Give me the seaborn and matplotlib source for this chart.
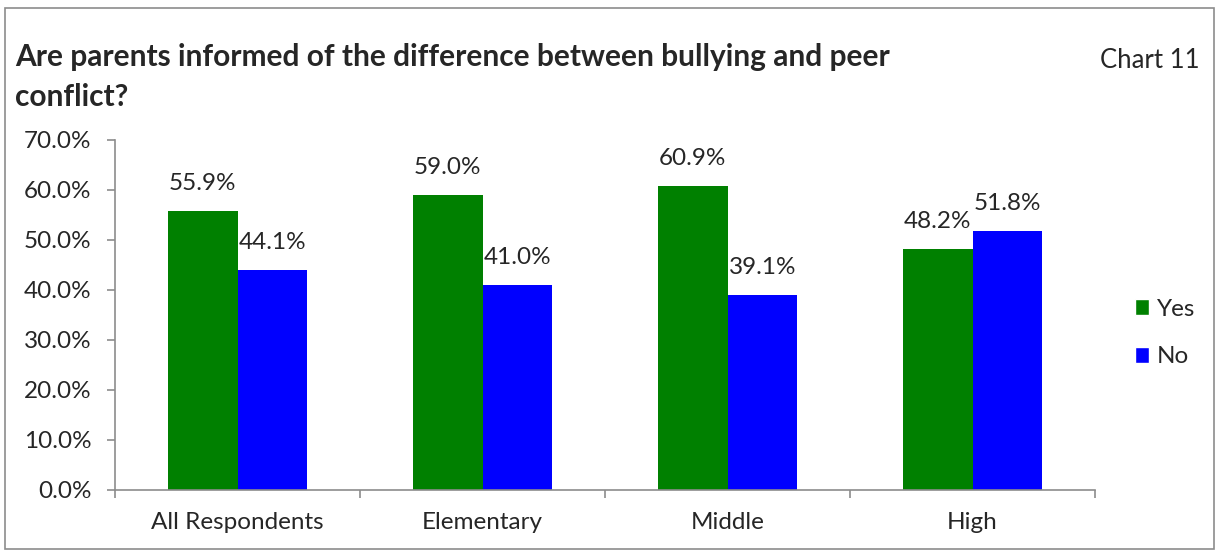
import pandas as pd
import matplotlib.pyplot as plt
import seaborn as sns
from matplotlib.patches import Rectangle, Patch
from matplotlib.ticker import MultipleLocator, FuncFormatter

# 数据
groups = ['All Respondents', 'Elementary', 'Middle', 'High']
yes_vals = [55.9, 59.0, 60.9, 48.2]
no_vals = [44.1, 41.0, 39.1, 51.8]

df = pd.DataFrame({
    'group': groups * 2,
    'answer': ['Yes'] * 4 + ['No'] * 4,
    'value': yes_vals + no_vals,
})

sns.set_style('white')
plt.rcParams['font.family'] = ['Lato', 'DejaVu Sans']

fig = plt.figure(figsize=(12.18, 5.5), dpi=100)
ax = fig.add_axes([115 / 1218, 1 - 490 / 550, 980 / 1218, 350 / 550])

colors = {'Yes': '#008000', 'No': '#0000FF'}
sns.barplot(data=df, x='group', y='value', hue='answer', palette=colors,
            width=0.571, gap=0, saturation=1, legend=False, linewidth=0,
            ax=ax)

# 数据标签
for p in ax.patches:
    h = p.get_height()
    if h == 0:
        continue
    ax.annotate(f'{h:.1f}%', (p.get_x() + p.get_width() / 2, h),
                xytext=(0, 12), textcoords='offset points',
                ha='center', va='bottom', fontsize=17.5)

ax.set_ylim(0, 70)
ax.set_xlim(-0.5, 3.5)
ax.yaxis.set_major_locator(MultipleLocator(10))
ax.yaxis.set_major_formatter(FuncFormatter(lambda v, _: f'{v:.1f}%'))
ax.set_xticks([0, 1, 2, 3])
ax.set_xticklabels(groups)
ax.set_xticks([-0.5, 0.5, 1.5, 2.5, 3.5], minor=True)
ax.set_xlabel('')
ax.set_ylabel('')

for s in ['top', 'right']:
    ax.spines[s].set_visible(False)
for s in ['left', 'bottom']:
    ax.spines[s].set_color('#8c8c8c')
    ax.spines[s].set_linewidth(1.2)

ax.tick_params(axis='y', which='major', direction='out', length=6, width=1.2,
               color='#8c8c8c', labelsize=17.5, pad=11, left=True)
ax.tick_params(axis='x', which='major', length=0, labelsize=17.5, pad=16)
ax.tick_params(axis='x', which='minor', direction='out', length=6, width=1.2,
               color='#8c8c8c', bottom=True)

# 标题
fig.text(15 / 1218, 1 - 57 / 550,
         'Are parents informed of the difference between bullying and peer',
         fontsize=21.5, fontweight='bold', va='center', ha='left')
fig.text(15 / 1218, 1 - 97 / 550, 'conflict?',
         fontsize=21.5, fontweight='bold', va='center', ha='left')
fig.text(1150 / 1218, 1 - 60 / 550, 'Chart 11', fontsize=18.5,
         va='center', ha='center')

# 图例
handles = [Patch(facecolor=colors['Yes'], label='Yes'),
           Patch(facecolor=colors['No'], label='No')]
fig.legend(handles=handles, loc='center left',
           bbox_to_anchor=(1113 / 1218, 1 - 333 / 550), frameon=False,
           fontsize=17.5, handlelength=0.6, handleheight=0.6,
           handletextpad=0.3, labelspacing=1.1)

# 外框
fig.patches.append(Rectangle((5 / 1218, 0.001), 1209 / 1218, 1 - 8 / 550 - 0.001,
                             transform=fig.transFigure, fill=False,
                             edgecolor='#8c8c8c', linewidth=1.2))

plt.savefig('out.png', dpi=100)
plt.close()
